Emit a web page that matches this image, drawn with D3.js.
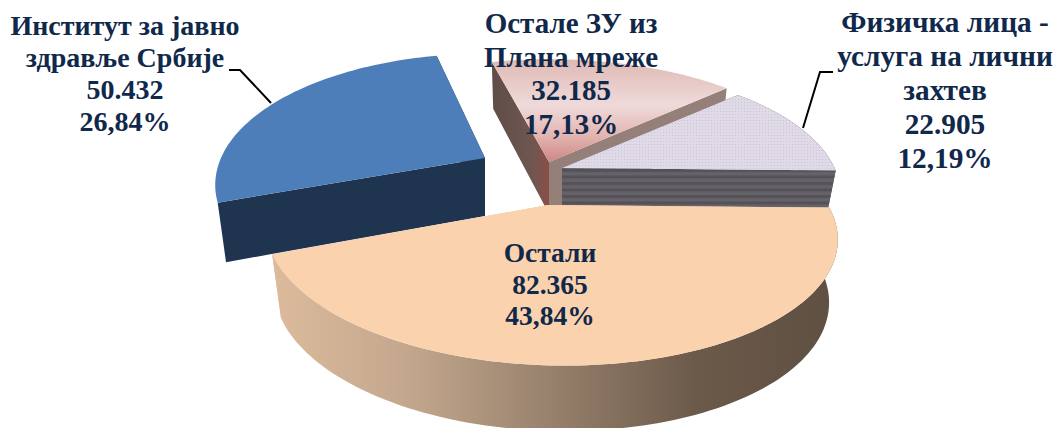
<!DOCTYPE html>
<html><head><meta charset="utf-8">
<script src="https://cdn.jsdelivr.net/npm/d3@7"></script>
<style>html,body{margin:0;padding:0;background:#fff;overflow:hidden}svg{display:block}</style>
</head><body><svg id="c" width="1057" height="428"></svg>
<script>
const categories=["Остали","Институт за јавно\nздравље Србије","Остале ЗУ из\nПлана мреже","Физичка лица -\nуслуга на лични\nзахтев"];
const values=[82365,50432,32185,22905];
const valueLabels=["82.365","50.432","32.185","22.905"];
const percentLabels=["43,84%","26,84%","17,13%","12,19%"];

const svg=d3.select("#c"),defs=svg.append("defs");
const pie=d3.pie().sort(null).startAngle(0).endAngle(2*Math.PI)(values);
const layout=[
 {ax:548,ay:205,s:0.975,sy:1.015,h:62,skew:17,rot:0.02},
 {ax:485,ay:158,s:0.92,sy:1.06,h:58,skew:0, rot:0.05},
 {ax:549,ay:162,s:0.96,sy:1,   h:52,skew:0, rot:0.02},
 {ax:562,ay:168,s:0.95,sy:1,   h:40,skew:0, rot:0.02}];
const R=287,A=129,k=0.205;
function P(l,a,r,z){
  const X=r*Math.cos(a),Y=r*Math.sin(a);
  const s=l.s/(1-k*Y+0.03*z);
  return [l.ax+R*X*s+l.skew*Y,l.ay+A*Y*s*l.sy+l.h*z*(1+0.15*Y)];
}
function arcPts(l,a0,a1,z){const n=Math.max(8,Math.ceil((a1-a0)*40));return d3.range(n+1).map(i=>P(l,a0+(a1-a0)*i/n,1,z));}
const line=d3.line();
function grad(id,x1,y1,x2,y2,stops){const g=defs.append("linearGradient").attr("id",id).attr("x1",x1).attr("y1",y1).attr("x2",x2).attr("y2",y2);
  stops.forEach(s=>g.append("stop").attr("offset",s[0]).attr("stop-color",s[1]));}
grad("wO",0,0,1,0,[[0,"#dcbb9c"],[0.25,"#c2a68c"],[0.5,"#96806c"],[0.75,"#6b5949"],[1,"#5f5043"]]);
grad("tP",0,0,0,1,[[0,"#dfb9b3"],[0.45,"#efdada"],[0.75,"#e3b4b0"],[1,"#cf8683"]]);
grad("wP",0,0,1,0,[[0,"#5f4d47"],[0.7,"#6e5750"],[1,"#8a4f47"]]);
const pt=defs.append("pattern").attr("id","dots").attr("width",3).attr("height",3).attr("patternUnits","userSpaceOnUse");
pt.append("rect").attr("width",3).attr("height",3).attr("fill","#dfd9e8");
pt.append("rect").attr("width",1).attr("height",1).attr("fill","#cbc5d4");
const st=defs.append("pattern").attr("id","stripes").attr("width",6).attr("height",6.5).attr("patternUnits","userSpaceOnUse");
st.append("rect").attr("width",6).attr("height",6.5).attr("fill","#66626a");
st.append("rect").attr("width",6).attr("height",3).attr("fill","#545157");

const topFill=["#fbd2ae","#4e7eb9","url(#tP)","url(#dots)"];
const outerFill=["url(#wO)",null,null,"url(#stripes)"];
const wallA=["#e5c5a8","#1f344f","url(#wP)","url(#stripes)"];
const wallB=["#e5c5a8","#1f344f","#948079","url(#stripes)"];
const order=[2,3,1,0];
order.forEach(i=>{
  const d=pie[i],l=layout[i],a0=d.startAngle+l.rot,a1=d.endAngle+l.rot;
  const g=svg.append("g");
  const wall=(a,f)=>g.append("path").attr("d",line([P(l,a,0,0),P(l,a,1,0),P(l,a,1,1),P(l,a,0,1)])+"Z").attr("fill",f);
  wall(a0,wallA[i]);wall(a1,wallB[i]);
  if(outerFill[i])g.append("path").attr("d",line(arcPts(l,a0,a1,0).concat(arcPts(l,a0,a1,1).reverse()))+"Z").attr("fill",outerFill[i]);
  g.append("path").attr("d",line([P(l,0,0,0)].concat(arcPts(l,a0,a1,0)))+"Z").attr("fill",topFill[i]);
});

const leaders=[[[229,70],[240,70],[271,103]],[[833,72],[820,72],[803,128]]];
svg.selectAll("path.lead").data(leaders).join("path").attr("class","lead").attr("d",d=>line(d)).attr("fill","none").attr("stroke","#000").attr("stroke-width",2);

const labelPos=[[550,262],[125,35],[571,33],[945,32]];
const lineHeights=[31.5,32,33.5,34];
const fontSizes=[27.5,28,29,29.3];
categories.forEach((c,i)=>{
  const lines=c.split("\n").concat([valueLabels[i],percentLabels[i]]);
  const t=svg.append("text").attr("text-anchor","middle").attr("fill","#10284a")
    .attr("font-family","'Liberation Serif',serif").attr("font-weight","bold").attr("font-size",fontSizes[i]);
  lines.forEach((s,j)=>t.append("tspan").attr("x",labelPos[i][0]).attr("y",labelPos[i][1]+j*lineHeights[i]).text(s));
});
</script></body></html>
